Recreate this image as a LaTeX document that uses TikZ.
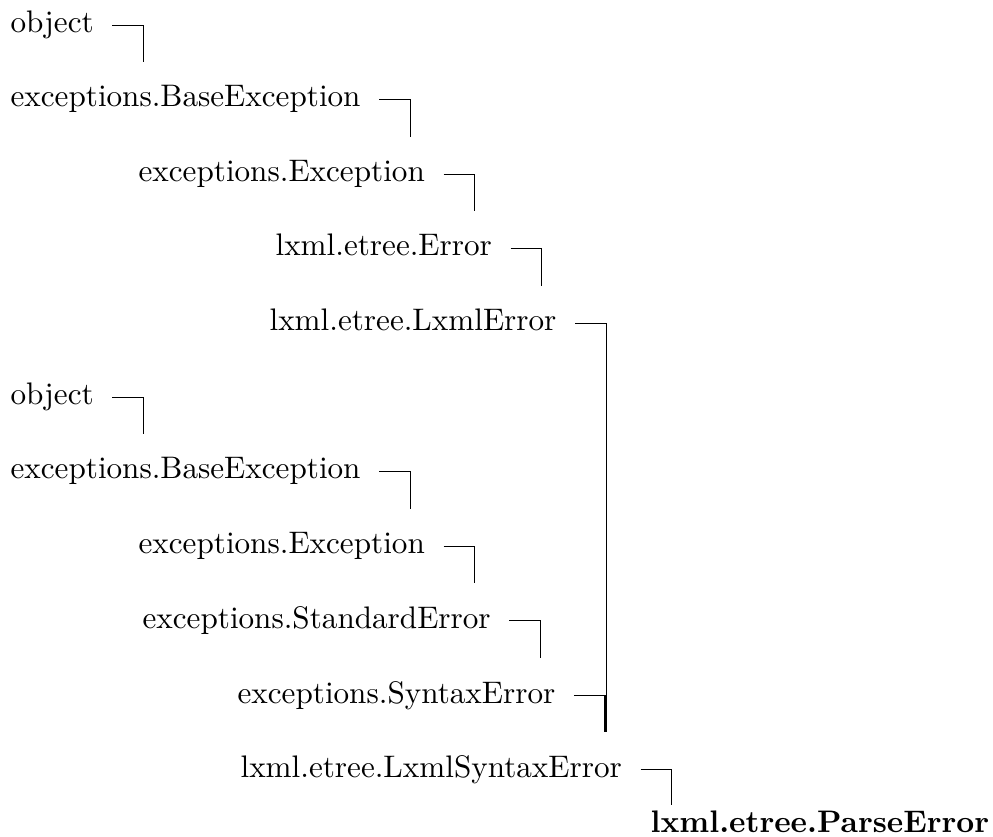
\documentclass[tikz,border=0pt]{standalone}
\usetikzlibrary{calc}

\begin{document}
\begin{tikzpicture}[x=0.321pt, y=-0.321pt]

  % --- styles ---
  \tikzset{
    % one class name, placed by its baseline
    clsbox/.style={
      inner sep=0pt,
      anchor=base west,
      text height=0.694em,
      text depth=0.194em
    },
    % elbow from a class to the class below it
    link/.style={
      draw=black,
      line width=0.4pt
    }
  }

  \useasboundingbox (0,0) rectangle (993,837);

  % --- first chain ---
  \node[clsbox] (obj1) at (10,33) {object};
  \node[clsbox] (base1) at (10,107) {exceptions.BaseException};
  \node[clsbox] (exc1) at (138,182) {exceptions.Exception};
  \node[clsbox] (err1) at (275,256) {lxml.etree.Error};
  \node[clsbox] (lxmlerr) at (269,331) {lxml.etree.LxmlError};

  % --- second chain ---
  \node[clsbox] (obj2) at (10,405) {object};
  \node[clsbox] (base2) at (10,479) {exceptions.BaseException};
  \node[clsbox] (exc2) at (138,554) {exceptions.Exception};
  \node[clsbox] (stderr) at (142,628) {exceptions.StandardError};
  \node[clsbox] (synerr) at (237,703) {exceptions.SyntaxError};
  \node[clsbox] (lxmlsyn) at (240,777) {lxml.etree.LxmlSyntaxError};

  % --- the class itself ---
  \node[clsbox, font=\bfseries] (parse) at (650,832) {lxml.etree.ParseError};

  % --- connectors ---
  \foreach \a/\b in {obj1/base1, base1/exc1, exc1/err1, err1/lxmlerr,
                     lxmlerr/lxmlsyn, obj2/base2, base2/exc2, exc2/stderr,
                     stderr/synerr, synerr/lxmlsyn}
    \draw[link] ([xshift=5.8pt]\a.east) -- ++(31,0) coordinate (t)
      -- ($(t |- \b.base)+(0,-45)$);

  \draw[link] ([xshift=5.8pt]lxmlsyn.east) -- ++(31,0) coordinate (t)
    -- ($(t |- parse.base)+(0,-27)$);

\end{tikzpicture}
\end{document}
